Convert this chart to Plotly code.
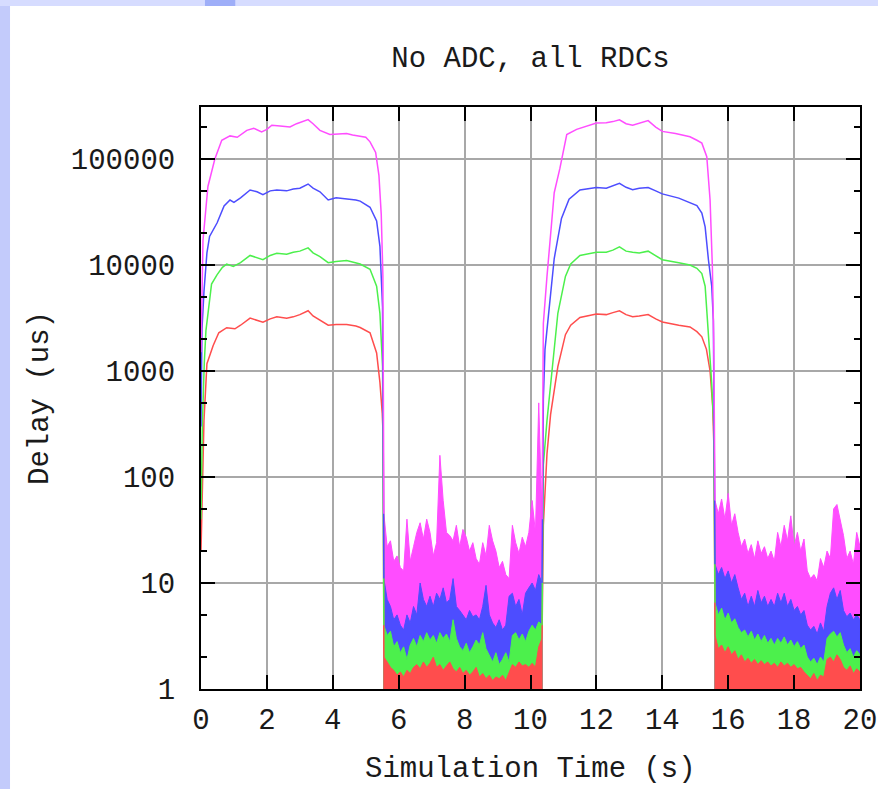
import numpy as np
import plotly.graph_objects as go

# ---------------------------------------------------------------
# Delay traces for the four RDC queues (times in s, delays in us)
# ---------------------------------------------------------------

# Congested phase 1 (ramp-up, plateau, drain)
red_t1 = [0.0, 0.03, 0.09, 0.18, 0.37, 0.54, 0.78, 1.03, 1.2, 1.49, 1.7, 1.88, 2.1, 2.3, 2.6, 2.8, 3.0,
          3.25, 3.4, 3.61, 3.86, 4.1, 4.42, 4.7, 4.83, 5.13, 5.33, 5.43, 5.5, 5.53, 5.55]
red_v1 = [20, 60, 340, 1170, 1740, 2290, 2560, 2500, 2700, 3150, 3000, 2880, 3100, 3240, 3150, 3240, 3400,
          3700, 3300, 3000, 2700, 2750, 2750, 2650, 2570, 2290, 1480, 780, 400, 240, 2]

green_t1 = [0.0, 0.04, 0.1, 0.15, 0.32, 0.49, 0.65, 0.78, 0.98, 1.2, 1.49, 1.7, 1.88, 2.1, 2.3, 2.6, 2.8,
            3.0, 3.25, 3.4, 3.61, 3.86, 4.1, 4.42, 4.7, 4.83, 5.13, 5.33, 5.43, 5.51, 5.55]
green_v1 = [40, 300, 1200, 2400, 6600, 8100, 9500, 10200, 9700, 10500, 12300, 11800, 11200, 12300, 12900,
            12600, 13200, 13500, 14500, 13000, 12000, 10500, 10800, 11000, 10500, 10200, 9100, 6300, 3500,
            1100, 4]

blue_t1 = [0.0, 0.03, 0.09, 0.18, 0.26, 0.49, 0.7, 0.88, 1.0, 1.2, 1.49, 1.7, 1.88, 2.1, 2.3, 2.6, 2.8,
           3.0, 3.25, 3.4, 3.61, 3.86, 4.1, 4.42, 4.7, 4.83, 5.13, 5.33, 5.43, 5.51, 5.55]
blue_v1 = [300, 2500, 5600, 13000, 18600, 25000, 36000, 41000, 39000, 43000, 51000, 49000, 46000, 50000,
           51000, 50000, 52000, 53000, 58000, 53000, 49000, 41000, 43000, 42000, 41000, 40000, 35000, 26000,
           15000, 4000, 11]

mag_t1 = [0.0, 0.06, 0.21, 0.42, 0.63, 0.88, 1.1, 1.39, 1.6, 1.84, 2.0, 2.15, 2.4, 2.7, 2.9, 3.1, 3.25,
          3.4, 3.61, 3.91, 4.1, 4.42, 4.6, 4.83, 5.0, 5.13, 5.3, 5.4, 5.47, 5.52, 5.55]
mag_v1 = [1500, 17000, 55000, 100000, 150000, 165000, 160000, 186000, 195000, 180000, 190000, 208000,
          205000, 200000, 215000, 225000, 235000, 215000, 186000, 170000, 172000, 174000, 168000, 162000,
          160000, 145000, 115000, 70000, 30000, 8000, 45]

# Congested phase 2
red_t2 = [10.35, 10.39, 10.5, 10.61, 10.83, 11.06, 11.22, 11.5, 12.0, 12.3, 12.5, 12.7, 12.9, 13.1, 13.3,
          13.57, 13.8, 14.0, 14.5, 14.84, 15.05, 15.2, 15.34, 15.45, 15.53, 15.57, 15.6]
red_v2 = [3, 35, 165, 390, 1100, 2200, 2700, 3200, 3450, 3400, 3550, 3700, 3400, 3250, 3300, 3400, 3100,
          2900, 2700, 2600, 2350, 2100, 1600, 1000, 460, 180, 3.2]

green_t2 = [10.35, 10.39, 10.5, 10.61, 10.83, 11.06, 11.22, 11.5, 12.0, 12.3, 12.5, 12.7, 12.9, 13.1, 13.3,
            13.57, 13.8, 14.0, 14.5, 14.84, 15.05, 15.2, 15.3, 15.4, 15.5, 15.56, 15.6]
green_v2 = [4, 130, 340, 740, 3500, 7800, 10200, 12300, 13200, 13200, 13800, 14800, 13500, 13200, 13000,
            13500, 12300, 11200, 10500, 10000, 9300, 8300, 6300, 2300, 760, 300, 6.5]

blue_t2 = [10.35, 10.39, 10.44, 10.56, 10.72, 10.94, 11.17, 11.5, 12.0, 12.3, 12.5, 12.7, 12.9, 13.1, 13.3,
           13.57, 13.8, 14.0, 14.5, 14.84, 15.05, 15.2, 15.3, 15.4, 15.5, 15.55, 15.6]
blue_v2 = [10, 540, 1600, 3500, 11500, 27500, 41700, 51000, 53700, 53000, 56000, 58900, 54000, 51300,
           53000, 53700, 50000, 46800, 42700, 39000, 36300, 30900, 22900, 11200, 6300, 3000, 15]

mag_t2 = [10.35, 10.39, 10.5, 10.61, 10.72, 10.89, 11.0, 11.1, 11.4, 11.7, 12.0, 12.3, 12.5, 12.7, 12.9,
          13.1, 13.3, 13.57, 13.8, 14.0, 14.4, 14.84, 15.05, 15.2, 15.35, 15.45, 15.52, 15.56, 15.6]
mag_v2 = [40, 2800, 7800, 21000, 48000, 81000, 120000, 170000, 190000, 205000, 218000, 220000, 225000,
          234000, 215000, 208000, 218000, 230000, 200000, 182000, 174000, 162000, 150000, 141000, 105000,
          41000, 9500, 2000, 60]

# Idle phases: peak envelope of the jittery low-delay samples
idle_t1 = [5.55, 5.65, 5.75, 5.85, 5.95, 6.05, 6.15, 6.25, 6.35, 6.45, 6.55, 6.65, 6.75, 6.85, 6.95, 7.05,
           7.15, 7.25, 7.35, 7.45, 7.55, 7.65, 7.75, 7.85, 7.95, 8.05, 8.15, 8.25, 8.35, 8.45, 8.55, 8.65,
           8.75, 8.85, 8.95, 9.05, 9.15, 9.25, 9.35, 9.45, 9.55, 9.65, 9.75, 9.85, 9.95, 10.05, 10.15,
           10.25, 10.35]
red_idle1 = [2, 1.8, 1.6, 1.5, 1.35, 1.45, 1.3, 1.5, 1.4, 1.6, 1.7, 1.55, 1.8, 1.6, 1.75, 2, 1.6, 1.7, 1.5,
             1.65, 1.8, 1.55, 1.45, 1.6, 1.4, 1.5, 1.35, 1.45, 1.6, 1.3, 1.4, 1.25, 1.35, 1.2, 1.3, 1.25,
             1.35, 1.2, 1.45, 1.7, 1.6, 1.8, 1.65, 1.7, 1.6, 1.75, 1.6, 2.5, 3]
green_idle1 = [4, 3.2, 3.5, 2.5, 2.8, 2.2, 2.5, 1.9, 2.6, 3, 2.5, 3.2, 2.8, 3.4, 2.9, 3.2, 2.7, 3.4, 3,
               3.3, 2.8, 4.5, 3, 2.5, 2.3, 2.7, 2.2, 2.5, 2.9, 2.6, 3.4, 2.4, 2.1, 1.8, 2.2, 1.7, 1.9, 2.2,
               1.8, 3.2, 3.4, 2.9, 3.3, 2.8, 3.5, 4, 3.6, 4.3, 4]
blue_idle1 = [11, 7, 6, 4.5, 5, 4, 3.6, 5, 4.2, 6, 5, 10, 7, 6, 7.5, 6, 8, 7, 9, 6.5, 7, 11, 6, 5.5, 5,
              4.5, 5.5, 4.8, 5, 4.5, 6, 9.5, 5, 4.2, 3.8, 4.5, 3.6, 4, 7.5, 8, 6, 7, 5, 8, 9, 10, 8.5,
              12, 10]
mag_idle1 = [45, 22, 25, 16, 18, 14, 13, 40, 16, 22, 30, 37, 26, 40, 30, 18, 24, 160, 60, 30, 28, 25, 35,
             22, 32, 27, 20, 24, 17, 15, 24, 18, 35, 25, 20, 14, 16, 12, 11, 35, 24, 19, 27, 22, 30, 60,
             30, 500, 40]

idle_t2 = [15.6, 15.7, 15.8, 15.9, 16.0, 16.1, 16.2, 16.3, 16.4, 16.5, 16.6, 16.7, 16.8, 16.9, 17.0, 17.1,
           17.2, 17.3, 17.4, 17.5, 17.6, 17.7, 17.8, 17.9, 18.0, 18.1, 18.2, 18.3, 18.4, 18.5, 18.6, 18.7,
           18.8, 18.9, 19.0, 19.1, 19.2, 19.3, 19.4, 19.5, 19.6, 19.7, 19.8, 19.9, 20.0]
red_idle2 = [3.2, 2.4, 2.6, 2.2, 2.5, 2.1, 2.3, 1.9, 2.1, 1.8, 1.95, 1.75, 1.9, 1.7, 1.85, 1.7, 1.8, 1.65,
             1.75, 1.6, 1.8, 1.65, 1.75, 1.6, 1.7, 1.55, 1.6, 1.45, 1.35, 1.25, 1.4, 1.2, 1.35, 1.3, 1.9,
             2, 1.8, 2.1, 1.9, 1.6, 1.5, 1.65, 1.4, 1.55, 1.45]
green_idle2 = [6.5, 5, 5.8, 4.5, 5.2, 4.2, 4.6, 3.8, 3.4, 3.6, 3.1, 3.5, 2.9, 3.3, 2.8, 3.2, 2.7, 3, 2.6,
               3, 2.7, 3.1, 2.6, 2.9, 2.5, 2.8, 2.4, 2.6, 2, 1.8, 1.95, 1.7, 2, 1.8, 3, 3.3, 3.5, 3.1, 3.4,
               2.6, 2.2, 2.4, 2, 2.3, 2.1]
blue_idle2 = [15, 12, 14, 11, 13, 10, 12, 9, 7, 8, 6, 7.5, 6, 8.5, 6.5, 7.5, 6, 7, 6, 8, 6.5, 8, 6, 7,
              5.5, 6, 5, 5.5, 4, 3.6, 3.9, 3.3, 4.2, 3.5, 6, 8, 9, 7, 8.5, 5.5, 4.8, 5.2, 4.5, 5, 4.5]
mag_idle2 = [60, 45, 62, 40, 70, 35, 45, 30, 22, 26, 19, 23, 17, 25, 19, 22, 17, 20, 16, 30, 22, 35, 25,
             43, 22, 30, 20, 26, 13, 11, 12, 10.5, 17, 14, 20, 17, 50, 55, 40, 28, 17, 20, 15, 30, 22]

x_ticks = [0, 2, 4, 6, 8, 10, 12, 14, 16, 18, 20]
y_ticks = [1, 10, 100, 1000, 10000, 100000]
y_minor = [2, 5, 20, 50, 200, 500, 2000, 5000, 20000, 50000, 200000]

RED, GREEN, BLUE, MAGENTA = "#ff4d4d", "#4cf04c", "#4d4dff", "#ff4dff"
FONT = "Liberation Mono"
TEXT = "#1a1a1a"

series = [
    (MAGENTA, mag_t1, mag_v1, mag_t2, mag_v2, mag_idle1, mag_idle2),
    (BLUE, blue_t1, blue_v1, blue_t2, blue_v2, blue_idle1, blue_idle2),
    (GREEN, green_t1, green_v1, green_t2, green_v2, green_idle1, green_idle2),
    (RED, red_t1, red_v1, red_t2, red_v2, red_idle1, red_idle2),
]

fig = go.Figure()


def band(t, peaks):
    """Closed polygon from the axis floor (1 us) up to the sample peaks."""
    xs = [t[0]] + list(t) + [t[-1]]
    ys = [1] + list(peaks) + [1]
    return xs, ys


# idle-phase jitter bands, tallest first so smaller queues stay visible
for color, _, _, _, _, idle1, idle2 in series:
    for t, peaks in ((idle_t1, idle1), (idle_t2, idle2)):
        xs, ys = band(t, peaks)
        fig.add_trace(go.Scatter(x=xs, y=ys, mode="lines", fill="toself", fillcolor=color,
                                 line=dict(color=color, width=1), hoverinfo="skip", showlegend=False))

# congested-phase delay curves
for color, t1, v1, t2, v2, _, _ in reversed(series):
    for t, v in ((t1, v1), (t2, v2)):
        fig.add_trace(go.Scatter(x=t, y=v, mode="lines", line=dict(color=color, width=1.5),
                                 showlegend=False))

axis_common = dict(
    showline=True, linecolor="black", linewidth=2, mirror="ticks",
    ticks="inside", tickcolor="black", tickwidth=2, ticklen=14,
    showgrid=True, gridcolor="#a8a8a8", gridwidth=1.5, zeroline=False,
    automargin=False,
    tickfont=dict(family=FONT, size=29, color=TEXT),
)

fig.update_xaxes(
    range=[0, 20], tickvals=x_ticks, ticktext=[str(v) for v in x_ticks],
    ticklabelstandoff=3,
    **axis_common,
)
fig.update_yaxes(
    type="log", range=[0, 5.49], tickvals=y_ticks, ticktext=[str(v) for v in y_ticks],
    ticklabelstandoff=18,
    minor=dict(tickvals=y_minor, ticks="inside", ticklen=6, tickwidth=2, tickcolor="black", showgrid=False),
    title=dict(text="Delay (us)", font=dict(family=FONT, size=29, color=TEXT), standoff=14),
    **axis_common,
)

# slide backdrop: pale blue border strips along the left and top edges
shapes = [
    dict(type="rect", xref="paper", yref="paper", x0=-0.305, x1=-0.2898, y0=-0.2, y1=1.19,
         fillcolor="#c3cbfb", line_width=0, layer="below"),
    dict(type="rect", xref="paper", yref="paper", x0=-0.305, x1=1.03, y0=1.1735, y1=1.19,
         fillcolor="#d6dcff", line_width=0, layer="below"),
    dict(type="rect", xref="paper", yref="paper", x0=0.006, x1=0.052, y0=1.1735, y1=1.19,
         fillcolor="#9eaef8", line_width=0, layer="below"),
]

fig.update_layout(
    width=878, height=789,
    margin=dict(l=201, r=18, t=107, b=100),
    paper_bgcolor="white", plot_bgcolor="white",
    title=dict(text="No ADC, all RDCs", x=0.5, xanchor="center", xref="paper", y=1 - 57 / 789,
               yanchor="middle", font=dict(family=FONT, size=29, color=TEXT)),
    shapes=shapes,
    annotations=[
        # x-axis caption, sitting on the bottom edge of the figure
        dict(text="Simulation Time (s)", xref="paper", yref="paper", x=0.5, y=-0.168,
             xanchor="center", yanchor="bottom", showarrow=False, borderpad=0,
             font=dict(family=FONT, size=29, color=TEXT)),
    ],
)

fig.write_html("out.html")
